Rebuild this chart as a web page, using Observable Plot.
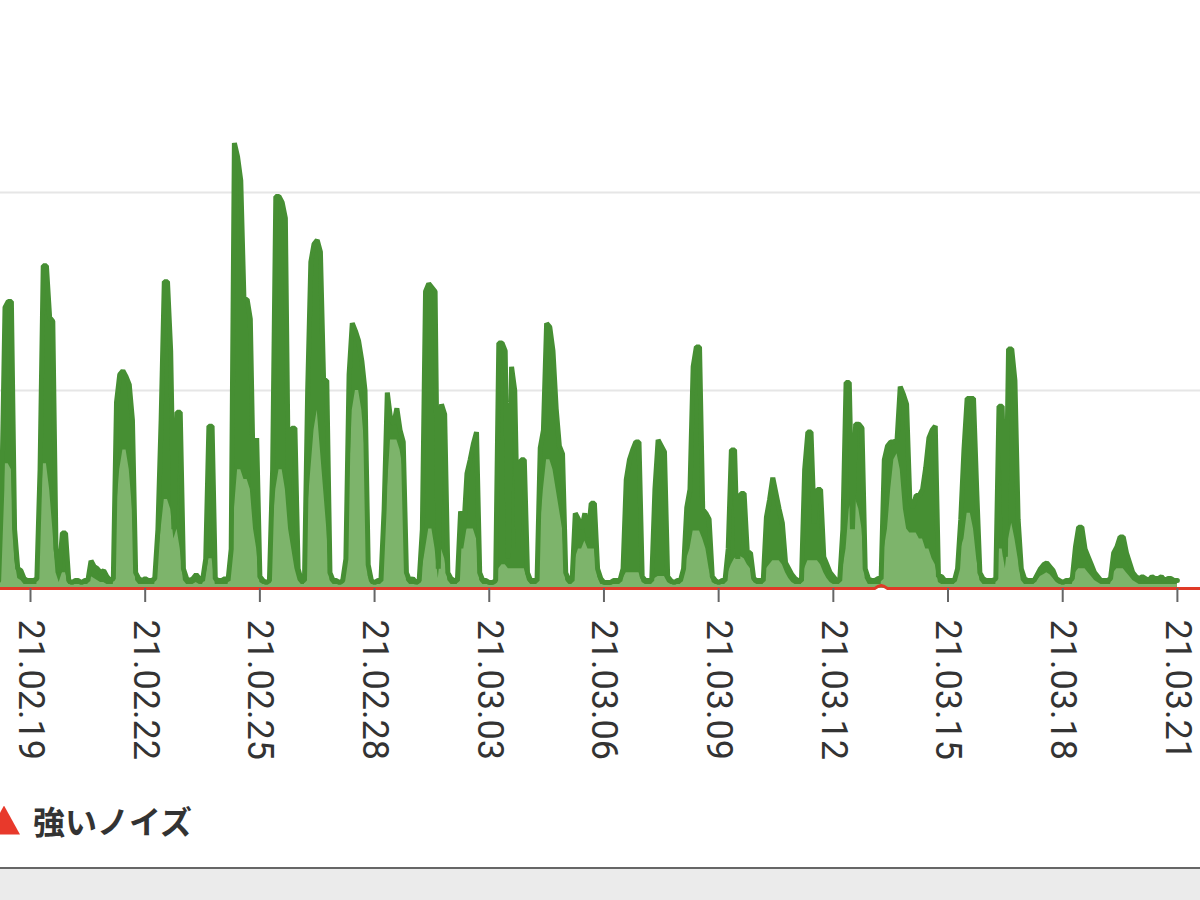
<!DOCTYPE html>
<html>
<head>
<meta charset="utf-8">
<script src="https://cdn.jsdelivr.net/npm/d3@7"></script>
<script src="https://cdn.jsdelivr.net/npm/@observablehq/plot@0.6"></script>
<style>
  html, body { margin: 0; padding: 0; background: #fff; width: 1200px; height: 900px; overflow: hidden; }
  #chart svg { display: block; }
  .legend { height: 60px; display: flex; align-items: center; font-family: "Noto Sans CJK JP", sans-serif; font-weight: 700; font-size: 32px; color: #333; }
  .legend .marker { width: 32px; height: 29px; background: #e8392b; clip-path: polygon(50% 0, 100% 100%, 0 100%); margin-left: -12px; margin-right: 13px; }
  .spacer { height: 17px; }
  .footer { border-top: 2px solid #666; background: #ebebeb; height: 40px; }
</style>
</head>
<body>
<div id="chart"></div>
<div class="legend"><div class="marker"></div><span>強いノイズ</span></div>
<div class="spacer"></div>
<div class="footer"></div>
<script>
// 2-hour readings, first one at 2021-02-18 04:00 (UTC)
const seriesStart = "2021-02-18T04:00Z";

// total noise level (dark green area)
const noise = [
  0.4, 5, 14.2, 14.5, 14.5, 3.0, 1.0, 0.9, 0.5, 0.4,                  // 02.18 (from 04:00)
  0.4, 0.4, 0.5, 6, 16.3, 16.3, 13.7, 13.5, 2.0, 0.8, 2.8, 2.8,       // 02.19
  0.4, 0.3, 0.4, 0.4, 0.3, 0.4, 0.4, 1.4, 1.1, 1.0, 0.8, 0.9,         // 02.20
  0.6, 0.4, 0.5, 9.4, 10.8, 11.0, 10.7, 10.3, 8.5, 0.8, 0.5, 0.4,     // 02.21
  0.5, 0.4, 0.4, 0.5, 3.0, 8.5, 15.5, 15.5, 12.0, 3.0, 8.9, 8.9,      // 02.22
  1.0, 0.5, 0.4, 0.5, 0.7, 0.5, 0.4, 1.5, 8.2, 8.2, 0.5, 0.4,         // 02.23
  0.4, 0.5, 0.4, 2.0, 22.5, 21.8, 20.6, 14.6, 14.6, 13.6, 5.0, 7.6,   // 02.24
  0.6, 0.4, 0.3, 0.4, 6.0, 19.8, 19.8, 19.5, 18.7, 4.5, 8.1, 8.1,     // 02.25
  1.0, 0.4, 0.4, 10.0, 16.5, 17.4, 17.6, 17.0, 10.5, 10.5, 0.8, 0.4,  // 02.26
  0.4, 0.3, 0.4, 1.5, 10.8, 13.4, 13.0, 12.5, 11.5, 10.0, 1.2, 0.4,   // 02.27
  0.3, 0.4, 0.4, 4.0, 9.9, 8.6, 8.3, 9.1, 8.0, 7.4, 0.8, 0.4,         // 02.28
  0.5, 0.3, 0.4, 3.0, 15.0, 15.4, 15.2, 15.0, 1.0, 9.3, 8.8, 0.8,     // 03.01
  0.5, 0.4, 0.4, 3.9, 3.0, 5.8, 6.5, 7.3, 7.9, 0.8, 0.4, 0.4,         // 03.02
  0.3, 0.3, 0.4, 12.4, 12.4, 12.0, 1.5, 11.2, 10.0, 2.0, 6.5, 6.5,    // 03.03
  0.8, 0.4, 0.4, 0.4, 7.1, 8.0, 13.4, 13.2, 12.0, 9.1, 7.2, 6.8,      // 03.04
  0.8, 0.4, 0.4, 3.8, 3.5, 3.0, 3.8, 2.6, 4.3, 4.3, 1.0, 0.5,         // 03.05
  0.3, 0.3, 0.3, 0.4, 0.4, 0.4, 1.0, 5.5, 6.5, 7.0, 7.4, 7.4,         // 03.06
  0.6, 0.4, 0.4, 0.4, 5.0, 7.5, 7.2, 6.9, 0.6, 0.4, 0.3, 0.4,         // 03.07
  0.4, 1.0, 4.1, 5.0, 11.2, 12.2, 12.2, 4.0, 3.8, 3.5, 0.6, 0.4,      // 03.08
  0.3, 0.4, 0.4, 2.0, 7.0, 7.0, 1.5, 4.8, 4.8, 1.8, 1.8, 0.5,         // 03.09
  0.4, 0.4, 0.4, 3.6, 4.5, 5.6, 4.8, 4.0, 3.3, 1.3, 1.0, 0.7,         // 03.10
  0.5, 0.4, 0.4, 6.0, 7.9, 7.9, 3.3, 5.0, 5.0, 1.6, 1.2, 0.8,         // 03.11
  0.6, 0.4, 0.4, 3.0, 10.4, 10.4, 3.0, 8.3, 8.3, 8.1, 1.0, 0.5,       // 03.12
  0.4, 0.4, 0.5, 0.5, 6.5, 7.2, 7.4, 7.4, 7.5, 10.2, 9.8, 9.3,        // 03.13
  4.5, 4.1, 4.7, 4.7, 5.0, 6.1, 7.6, 8.0, 8.2, 0.6, 0.6, 0.4,         // 03.14
  0.4, 0.4, 0.4, 1.0, 3.5, 7.0, 9.6, 9.6, 9.6, 5.0, 0.8, 0.5,         // 03.15
  0.4, 0.4, 0.4, 0.5, 9.2, 9.2, 1.6, 12.1, 12.1, 10.5, 3.5, 1.0,      // 03.16
  0.5, 0.4, 0.4, 0.4, 0.7, 1.0, 1.2, 1.3, 1.1, 0.9, 0.5, 0.4,         // 03.17
  0.3, 0.4, 0.4, 0.5, 2.1, 3.1, 3.1, 2.0, 1.6, 1.2, 0.8, 0.6,         // 03.18
  0.4, 0.4, 0.4, 0.5, 1.8, 2.1, 2.6, 2.6, 1.8, 1.3, 0.8, 0.6,         // 03.19
  0.5, 0.6, 0.5, 0.4, 0.6, 0.5, 0.5, 0.6, 0.4, 0.5, 0.5, 0.4,         // 03.20
  0.4                                                                 // 03.21 00:00
];

// weaker noise component (light green area)
const weakNoise = [
  0.2, 2, 6.3, 6.3, 6, 1.5, 0.5, 0.4, 0.2, 0.2,                       // 02.18 (from 04:00)
  0.2, 0.2, 0.2, 3, 6.3, 6.3, 5, 3, 0.8, 0.3, 0.8, 0.8,               // 02.19
  0.2, 0.2, 0.2, 0.2, 0.2, 0.2, 0.2, 0.6, 0.5, 0.4, 0.3, 0.3,         // 02.20
  0.2, 0.2, 0.2, 4, 6, 7, 7, 6, 4, 0.4, 0.2, 0.2,                     // 02.21
  0.2, 0.2, 0.2, 0.2, 1.5, 3, 4.5, 4.5, 4, 2.5, 3, 2,                 // 02.22
  0.4, 0.2, 0.2, 0.2, 0.3, 0.2, 0.2, 0.6, 1.5, 1.5, 0.2, 0.2,         // 02.23
  0.2, 0.2, 0.2, 1, 4, 6, 6, 5.5, 5.5, 5, 3, 2,                       // 02.24
  0.3, 0.2, 0.2, 0.2, 3, 5, 6, 6, 5, 3, 2, 1,                         // 02.25
  0.4, 0.2, 0.2, 4, 6, 8, 9, 7, 5, 3, 0.4, 0.2,                       // 02.26
  0.2, 0.2, 0.2, 0.8, 5, 9, 10, 10, 9, 7, 0.6, 0.2,                   // 02.27
  0.2, 0.2, 0.2, 2, 5, 7.5, 7.5, 7.5, 7, 6, 0.4, 0.2,                 // 02.28
  0.2, 0.2, 0.2, 1, 2, 3, 3, 2, 0.5, 2, 1.5, 0.4,                     // 03.01
  0.2, 0.2, 0.2, 2, 2, 3, 3, 3, 2.5, 0.4, 0.2, 0.2,                   // 03.02
  0.2, 0.2, 0.2, 1, 1.2, 1.2, 1, 1, 1, 1, 1, 1,                       // 03.03
  0.4, 0.2, 0.2, 0.2, 3, 5, 6.5, 6.5, 6, 5, 4, 3,                     // 03.04
  0.4, 0.2, 0.2, 1.5, 2, 2, 2.4, 2, 2, 2, 0.6, 0.2,                   // 03.05
  0.2, 0.2, 0.2, 0.2, 0.2, 0.2, 0.5, 0.8, 0.8, 0.8, 0.8, 0.8,         // 03.06
  0.3, 0.2, 0.2, 0.2, 0.5, 0.6, 0.6, 0.6, 0.3, 0.2, 0.2, 0.2,         // 03.07
  0.2, 0.5, 1.5, 2, 2.9, 2.9, 2.9, 2.5, 2, 1, 0.3, 0.2,               // 03.08
  0.2, 0.2, 0.2, 0.8, 1.2, 1.5, 1.6, 1.6, 1.5, 1.2, 1, 0.3,           // 03.09
  0.2, 0.2, 0.2, 1, 1.2, 1.4, 1.4, 1.4, 1.2, 0.8, 0.5, 0.3,           // 03.10
  0.2, 0.2, 0.2, 1, 1.4, 1.4, 1.4, 1.4, 1.2, 0.8, 0.5, 0.3,           // 03.11
  0.2, 0.2, 0.2, 1, 2, 4, 4.5, 4.5, 4, 3, 0.5, 0.2,                   // 03.12
  0.2, 0.2, 0.2, 0.2, 2, 3, 5, 6.5, 6.8, 6, 4, 3,                     // 03.13
  2.8, 2.8, 2.8, 2.5, 2.5, 2, 2, 1.5, 1.2, 0.3, 0.2, 0.2,             // 03.14
  0.2, 0.2, 0.2, 0.5, 2, 2.5, 3.8, 3.8, 3, 1.5, 0.4, 0.2,             // 03.15
  0.2, 0.2, 0.2, 0.2, 2, 2, 1, 2.5, 3.3, 2.5, 1.5, 0.4,               // 03.16
  0.2, 0.2, 0.2, 0.2, 0.4, 0.6, 0.7, 0.8, 0.7, 0.5, 0.3, 0.2,         // 03.17
  0.2, 0.2, 0.2, 0.2, 0.8, 1, 1, 1, 0.8, 0.6, 0.4, 0.3,               // 03.18
  0.2, 0.2, 0.2, 0.2, 0.8, 1, 1, 1, 0.8, 0.6, 0.4, 0.3,               // 03.19
  0.2, 0.2, 0.2, 0.2, 0.2, 0.2, 0.2, 0.2, 0.2, 0.2, 0.2, 0.2,         // 03.20
  0.2                                                                 // 03.21 00:00
];

// strong noise (red line)
const strongNoise = [
  0, 0, 0, 0, 0, 0, 0, 0, 0, 0,                 // 02.18 (from 04:00)
  0, 0, 0, 0, 0, 0, 0, 0, 0, 0, 0, 0,           // 02.19
  0, 0, 0, 0, 0, 0, 0, 0, 0, 0, 0, 0,           // 02.20
  0, 0, 0, 0, 0, 0, 0, 0, 0, 0, 0, 0,           // 02.21
  0, 0, 0, 0, 0, 0, 0, 0, 0, 0, 0, 0,           // 02.22
  0, 0, 0, 0, 0, 0, 0, 0, 0, 0, 0, 0,           // 02.23
  0, 0, 0, 0, 0, 0, 0, 0, 0, 0, 0, 0,           // 02.24
  0, 0, 0, 0, 0, 0, 0, 0, 0, 0, 0, 0,           // 02.25
  0, 0, 0, 0, 0, 0, 0, 0, 0, 0, 0, 0,           // 02.26
  0, 0, 0, 0, 0, 0, 0, 0, 0, 0, 0, 0,           // 02.27
  0, 0, 0, 0, 0, 0, 0, 0, 0, 0, 0, 0,           // 02.28
  0, 0, 0, 0, 0, 0, 0, 0, 0, 0, 0, 0,           // 03.01
  0, 0, 0, 0, 0, 0, 0, 0, 0, 0, 0, 0,           // 03.02
  0, 0, 0, 0, 0, 0, 0, 0, 0, 0, 0, 0,           // 03.03
  0, 0, 0, 0, 0, 0, 0, 0, 0, 0, 0, 0,           // 03.04
  0, 0, 0, 0, 0, 0, 0, 0, 0, 0, 0, 0,           // 03.05
  0, 0, 0, 0, 0, 0, 0, 0, 0, 0, 0, 0,           // 03.06
  0, 0, 0, 0, 0, 0, 0, 0, 0, 0, 0, 0,           // 03.07
  0, 0, 0, 0, 0, 0, 0, 0, 0, 0, 0, 0,           // 03.08
  0, 0, 0, 0, 0, 0, 0, 0, 0, 0, 0, 0,           // 03.09
  0, 0, 0, 0, 0, 0, 0, 0, 0, 0, 0, 0,           // 03.10
  0, 0, 0, 0, 0, 0, 0, 0, 0, 0, 0, 0,           // 03.11
  0, 0, 0, 0, 0, 0, 0, 0, 0, 0, 0, 0,           // 03.12
  0, 0, 0.1, 0.15, 0.1, 0, 0, 0, 0, 0, 0, 0,    // 03.13
  0, 0, 0, 0, 0, 0, 0, 0, 0, 0, 0, 0,           // 03.14
  0, 0, 0, 0, 0, 0, 0, 0, 0, 0, 0, 0,           // 03.15
  0, 0, 0, 0, 0, 0, 0, 0, 0, 0, 0, 0,           // 03.16
  0, 0, 0, 0, 0, 0, 0, 0, 0, 0, 0, 0,           // 03.17
  0, 0, 0, 0, 0, 0, 0, 0, 0, 0, 0, 0,           // 03.18
  0, 0, 0, 0, 0, 0, 0, 0, 0, 0, 0, 0,           // 03.19
  0, 0, 0, 0, 0, 0, 0, 0, 0, 0, 0, 0,           // 03.20
  0, 0, 0, 0, 0, 0, 0, 0, 0                     // 03.21 (to 16:00)
];

// axis ticks, every third day
const tickDates = [
  "2021-02-19", "2021-02-22", "2021-02-25", "2021-02-28", "2021-03-03", "2021-03-06",
  "2021-03-09", "2021-03-12", "2021-03-15", "2021-03-18", "2021-03-21"
];

// gridline levels
const gridLevels = [10, 20];

const t0 = new Date(seriesStart);
const toRows = values => values.map((v, i) => ({ time: d3.utcHour.offset(t0, 2 * i), value: v }));
const noiseRows = toRows(noise);
const weakRows = toRows(weakNoise);
const strongRows = toRows(strongNoise);
const ticks = tickDates.map(d => new Date(d + "T00:00Z"));

const darkGreen = "#468f33";
const lightGreen = "#7db46b";

const chart = Plot.plot({
  width: 1200,
  height: 790,
  marginLeft: 0,
  marginRight: 0,
  marginTop: 0,
  marginBottom: 202,
  x: { type: "utc", domain: [new Date("2021-02-18T05:10Z"), new Date("2021-03-21T14:30Z")] },
  y: { domain: [0, 29.7], axis: null },
  style: { fontFamily: "Roboto, sans-serif", background: "#fff" },
  marks: [
    Plot.ruleY(gridLevels, { stroke: "#e6e6e6", strokeWidth: 2 }),
    Plot.areaY(noiseRows, { x: "time", y: "value", fill: darkGreen, clip: true }),
    Plot.areaY(weakRows, { x: "time", y: "value", fill: lightGreen, clip: true }),
    Plot.lineY(noiseRows, { x: "time", y: "value", stroke: darkGreen, strokeWidth: 5, strokeLinejoin: "miter", clip: true }),
    Plot.lineY(strongRows, { x: "time", y: "value", stroke: "#e03a28", strokeWidth: 3 }),
    Plot.axisX(ticks, {
      tickRotate: 90,
      tickSize: 14,
      tickPadding: 17,
      tickFormat: d3.utcFormat("%y.%m.%d"),
      fontSize: 36,
      stroke: "#666",
      strokeWidth: 2,
      fill: "#333"
    })
  ]
});
document.getElementById("chart").appendChild(chart);
</script>
</body>
</html>
